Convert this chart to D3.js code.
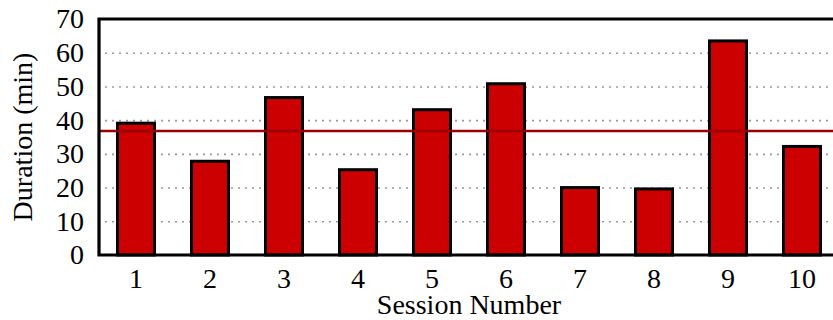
<!DOCTYPE html>
<html>
<head>
<meta charset="utf-8">
<script src="https://d3js.org/d3.v7.min.js"></script>
<style>
    body { margin: 0; background: #fff; }
    svg { display: block; font-family: "Liberation Serif", "Times New Roman", serif; }
    .grid line { stroke: #9a9a9a; stroke-width: 1.6; stroke-dasharray: 2, 5; }
    .grid .domain { display: none; }
    .axis .domain, .axis line { display: none; }
    .axis text { font-size: 28px; fill: #000; font-family: "Liberation Serif", serif; }
</style>
</head>
<body>
<div id="chart"></div>
<script>
var sessions = ["1", "2", "3", "4", "5", "6", "7", "8", "9", "10"];
var durations = [39.1, 27.8, 46.7, 25.3, 43.1, 50.8, 20.0, 19.6, 63.5, 32.2];
var yTicks = [0, 10, 20, 30, 40, 50, 60, 70];

// set the dimensions and margins of the graph
var margin = { top: 19, right: -6, bottom: 65, left: 99 },
    width = 833 - margin.left - margin.right,
    height = 320 - margin.top - margin.bottom;

var svg = d3.select("#chart")
    .append("svg")
    .attr("width", 833)
    .attr("height", 320)
    .append("g")
    .attr("transform", "translate(" + margin.left + "," + margin.top + ")");

var data = sessions.map(function(s, i) { return { session: s, value: durations[i] }; });

var x = d3.scaleBand()
    .domain(sessions)
    .range([0, width])
    .paddingInner(0.5)
    .paddingOuter(0.25);

var y = d3.scaleLinear()
    .domain([0, 70])
    .range([height, 0]);

// dotted gridlines
svg.append("g")
    .attr("class", "grid")
    .call(d3.axisLeft(y)
        .tickValues(yTicks.filter(function(t) { return t > 0 && t < 70; }))
        .tickSize(-width)
        .tickFormat("")
    )
    .selectAll("line")
    .attr("x1", 6);

// bars
svg.selectAll(".bar")
    .data(data)
    .enter()
    .append("rect")
    .attr("class", "bar")
    .attr("x", function(d) { return x(d.session); })
    .attr("y", function(d) { return y(d.value); })
    .attr("width", x.bandwidth())
    .attr("height", function(d) { return height - y(d.value); })
    .attr("fill", "#cc0000")
    .attr("stroke", "#000")
    .attr("stroke-width", 3);

// average line
var avg = d3.mean(durations);
svg.append("line")
    .attr("x1", 0)
    .attr("x2", width)
    .attr("y1", y(avg))
    .attr("y2", y(avg))
    .attr("stroke", "#990000")
    .attr("stroke-width", 2.5);

// frame (left, top, bottom)
svg.append("path")
    .attr("d", "M" + width + "," + y(70) + "H0V" + height + "H" + width)
    .attr("fill", "none")
    .attr("stroke", "#000")
    .attr("stroke-width", 3.2);

// axes labels
svg.append("g")
    .attr("class", "axis")
    .attr("transform", "translate(0," + height + ")")
    .call(d3.axisBottom(x).tickSize(0).tickPadding(13));

svg.append("g")
    .attr("class", "axis")
    .call(d3.axisLeft(y).tickValues(yTicks).tickSize(0).tickPadding(15));

svg.append("text")
    .attr("x", x("5") + x.step() * 0.75 + 0)
    .attr("y", height + 59)
    .attr("text-anchor", "middle")
    .style("font-size", "28px")
    .text("Session Number");

svg.append("text")
    .attr("transform", "translate(" + (-67) + "," + (height / 2) + ") rotate(-90)")
    .attr("text-anchor", "middle")
    .style("font-size", "28px")
    .text("Duration (min)");
</script>
</body>
</html>
